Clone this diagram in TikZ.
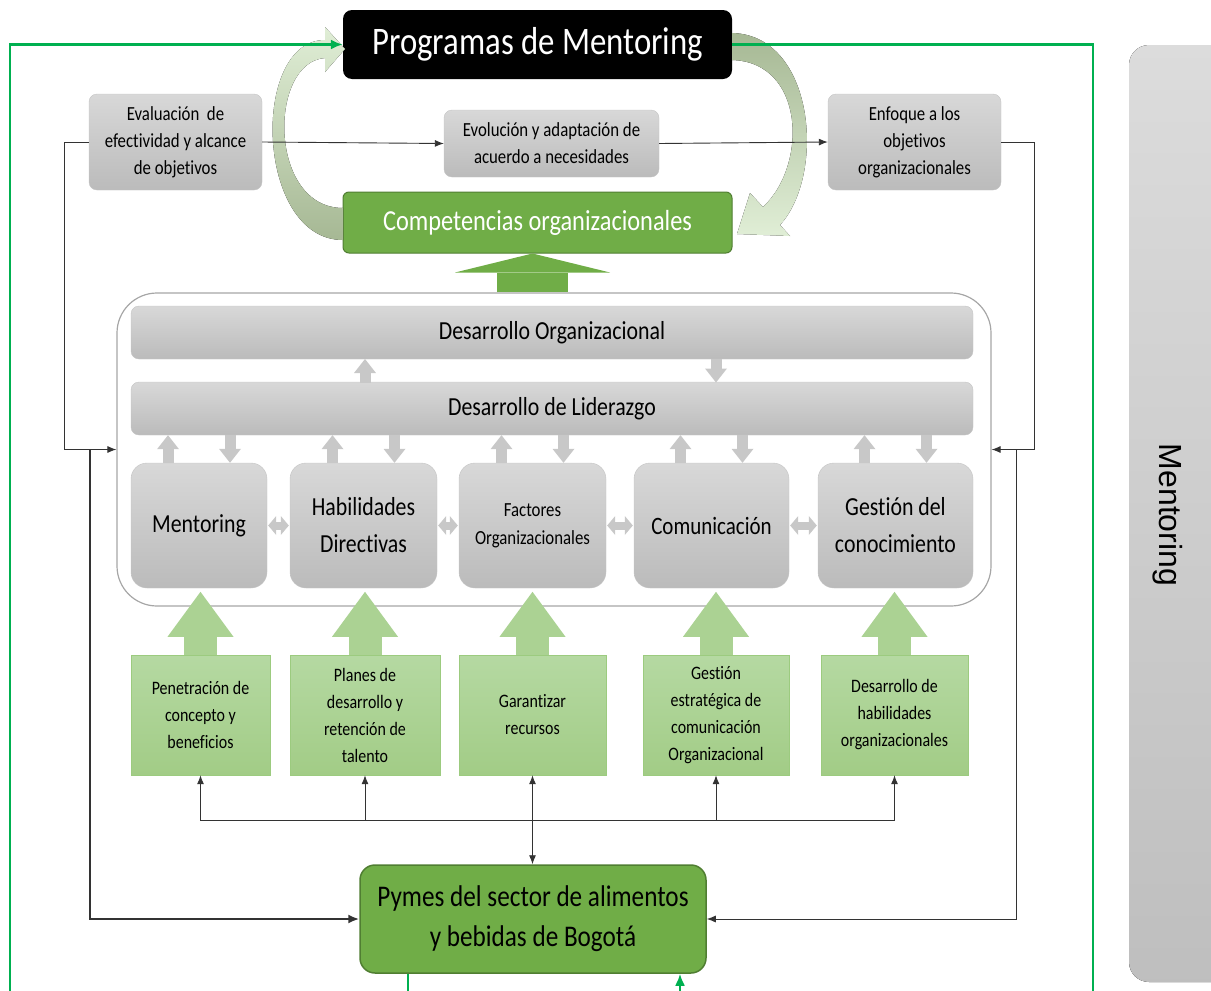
\documentclass[tikz,border=0pt]{standalone}
\usepackage{fontspec}
\setmainfont{Carlito}[FakeStretch=0.84, Ligatures=NoCommon]
\newfontfamily\sidefont{Liberation Sans}
\usetikzlibrary{arrows.meta}
\definecolor{mgreen}{HTML}{70AD47}
\definecolor{mgreenD}{HTML}{507E32}
\definecolor{lgreen}{HTML}{ABD293}
\definecolor{lgreenT}{HTML}{B5D9A2}
\definecolor{lgreenB}{HTML}{A2CC86}
\definecolor{lgreenE}{HTML}{9CCB7F}
\definecolor{lineg}{HTML}{00B050}
\definecolor{boxT}{HTML}{D8D8D8}
\definecolor{boxB}{HTML}{BBBBBB}
\definecolor{boxE}{HTML}{C4C4C4}
\definecolor{arrg}{HTML}{C8C8C8}
\definecolor{pale}{HTML}{E0EED6}
\definecolor{dull}{HTML}{A6B894}
\definecolor{frame}{HTML}{A6A6A6}

\begin{document}
\begin{tikzpicture}[x=1pt, y=-1pt,
	greybox/.style={draw=boxE, top color=boxT, bottom color=boxB, rounded corners=8pt, align=center, inner sep=0pt, text=black},
	corebox/.style={greybox, rounded corners=16pt, minimum height=125pt},
	leafbox/.style={draw=lgreenE, top color=lgreenT, bottom color=lgreenB, align=center, inner sep=0pt, minimum height=120pt, text=black, font=\fontsize{19}{27}\selectfont},
	link/.style={draw=black!80, line width=0.9pt},
	linkhead/.style={-{Latex[length=9pt,width=7pt]}},
	greenline/.style={draw=lineg, line width=2.2pt},
	smallarr/.style={draw=arrg, line width=11pt, -{Triangle[length=14pt,width=22pt,line width=0pt]}},
	pairarr/.style={draw=arrg, line width=8pt, shorten <=1pt, shorten >=1pt, {Triangle[length=8pt,width=19pt,line width=0pt]}-{Triangle[length=8pt,width=19pt,line width=0pt]}},
	leafarr/.style={draw=lgreen, line width=33pt, -{Triangle[length=45pt,width=66pt,line width=0pt]}}
	]
	\useasboundingbox (0,0) rectangle (1211,991);
	\fill[top color=boxT!90, bottom color=boxB!95, rounded corners=20pt] (1129,45) rectangle (1260,982);
	\node[font=\sidefont\fontsize{32}{32}\selectfont, rotate=-90] (side) at (1168,515) {Mentoring};

	\node[fill=black, rounded corners=9pt, minimum width=389pt, minimum height=69pt, text=white, font=\fontsize{39}{39}\selectfont] (prog) at (537.5,44.5) {Programas de Mentoring};
	\node[fill=mgreen, draw=mgreenD, line width=1pt, rounded corners=6pt, minimum width=389pt, minimum height=61pt, text=white, font=\fontsize{29}{29}\selectfont] (comp) at (537.5,222.5) {Competencias organizacionales};

	\node[greybox, minimum width=173pt, minimum height=96pt, font=\fontsize{20}{27}\selectfont] (eval) at (175.5,142) {Evaluación~ de\\efectividad y alcance\\de objetivos};
	\node[greybox, minimum width=215pt, minimum height=67pt, font=\fontsize{20}{27}\selectfont] (evol) at (551.5,143.5) {Evolución y adaptación de\\acuerdo a necesidades};
	\node[greybox, minimum width=173pt, minimum height=96pt, font=\fontsize{20}{27}\selectfont] (enfo) at (914.5,142) {Enfoque a los\\objetivos\\organizacionales};

	\node[draw=frame, line width=1.2pt, rounded corners=40pt, minimum width=874pt, minimum height=313pt] (cont) at (554,449.5) {};
	\node[greybox, minimum width=842pt, minimum height=53pt, font=\fontsize{26}{26}\selectfont] (dorg) at (552,332.5) {Desarrollo Organizacional};
	\node[greybox, minimum width=842pt, minimum height=53pt, font=\fontsize{26}{26}\selectfont] (dlid) at (552,408.5) {Desarrollo de Liderazgo};

	\node[corebox, minimum width=136pt, font=\fontsize{26}{37}\selectfont] (ment) at (199,525.5) {Mentoring};
	\node[corebox, minimum width=147pt, font=\fontsize{26}{37}\selectfont] (habi) at (363.5,525.5) {Habilidades\\Directivas};
	\node[corebox, minimum width=147pt, font=\fontsize{20}{28}\selectfont] (fact) at (532.5,525.5) {Factores\\Organizacionales};
	\node[corebox, minimum width=155pt, font=\fontsize{25}{37}\selectfont] (comu) at (711.5,525.5) {Comunicación};
	\node[corebox, minimum width=155pt, font=\fontsize{26}{37}\selectfont] (gest) at (895.5,525.5) {Gestión del\\conocimiento};

	\node[leafbox, minimum width=139pt] (pene) at (200.5,715) {Penetración de\\concepto y\\beneficios};
	\node[leafbox, minimum width=150pt] (plan) at (365,715) {Planes de\\desarrollo y\\retención de\\talento};
	\node[leafbox, minimum width=147pt] (gara) at (532.5,715) {Garantizar\\recursos};
	\node[leafbox, minimum width=146pt] (gesc) at (716,715) {Gestión\\estratégica de\\comunicación\\Organizacional};
	\node[leafbox, minimum width=147pt] (dhab) at (894.5,715) {Desarrollo de\\habilidades\\organizacionales};

	\node[fill=mgreen, draw=mgreenD, line width=1.5pt, rounded corners=15pt, minimum width=346pt, minimum height=108pt, align=center, text=black, font=\fontsize{30}{40}\selectfont] (pymes) at (533,919) {Pymes del sector de alimentos\\y bebidas de Bogotá};

	\fill[top color=pale, bottom color=dull] (343,240) .. controls (255,240) and (250,40) .. (325,40) -- (325,27) -- (345,49) -- (325,72) -- (325,58) .. controls (268,62) and (268,208) .. (343,208) -- cycle;
	\fill[top color=dull, bottom color=pale] (732,33) .. controls (815,35) and (826,175) .. (780,225) -- (790,236) -- (737,234) -- (750,193) -- (763,207) .. controls (808,165) and (805,62) .. (732,60) -- cycle;

	\draw[draw=mgreen, line width=71pt, -{Triangle[length=19pt,width=155pt,line width=0pt]}] (fact |- cont.north) -- (fact |- comp.south);
	\draw[smallarr] (365,382.5) -- (365,359);
	\draw[smallarr] (716,359) -- (716,382.5);
	\foreach \n in {ment,habi,fact,comu,gest} {
		\draw[smallarr] ([xshift=-31pt]\n.north) -- ([xshift=-31pt]\n.north |- dlid.south);
		\draw[smallarr] ([xshift=31pt]\n.north |- dlid.south) -- ([xshift=31pt]\n.north);
	}
	\draw[pairarr] (ment) -- (habi);
	\draw[pairarr] (habi) -- (fact);
	\draw[pairarr] (fact) -- (comu);
	\draw[pairarr] (comu) -- (gest);
	\foreach \n in {pene,plan,gara,gesc,dhab}
		\draw[leafarr] (\n.north) -- ++(0,-63);

	\coordinate (lx) at (64,0);
	\coordinate (lt) at (90,0);
	\coordinate (rx) at (1034,0);
	\coordinate (rt) at (1016,0);
	\coordinate (bus) at (532.5,820);
	\draw[link, linkhead] (eval.east) -- (evol.west);
	\draw[link, linkhead] (evol.east) -- (enfo.west);
	\draw[link, linkhead] (eval.west) -| (lx |- cont.west) -- (cont.west);
	\draw[link, linkhead] (enfo.east) -| (rx |- cont.east) -- (cont.east);
	\draw[link, line width=2pt, -{Latex[length=11pt,width=9pt]}] (lt |- cont.west) |- (pymes.west);
	\draw[link, linkhead] (rt |- cont.east) |- (pymes.east);
	\foreach \n in {pene,plan,gesc,dhab}
		\draw[link, {Latex[length=9pt,width=7pt]}-] (\n.south) |- (bus);
	\draw[link, {Latex[length=9pt,width=7pt]}-{Latex[length=9pt,width=7pt]}] (gara.south) -- (gara.south |- pymes.north);

	\coordinate (gl) at (10,991);
	\coordinate (gr) at (1093,991);
	\coordinate (gb1) at (408,991);
	\coordinate (gb2) at (680,991);
	\draw[greenline, -{Latex[length=12pt,width=10pt]}] (gl) |- (prog.west);
	\draw[greenline] (prog.east) -| (gr);
	\draw[greenline] (gb1 |- pymes.south) -- (gb1);
	\draw[greenline, -{Latex[length=12pt,width=10pt]}] (gb2) -- (gb2 |- pymes.south);
\end{tikzpicture}
\end{document}
